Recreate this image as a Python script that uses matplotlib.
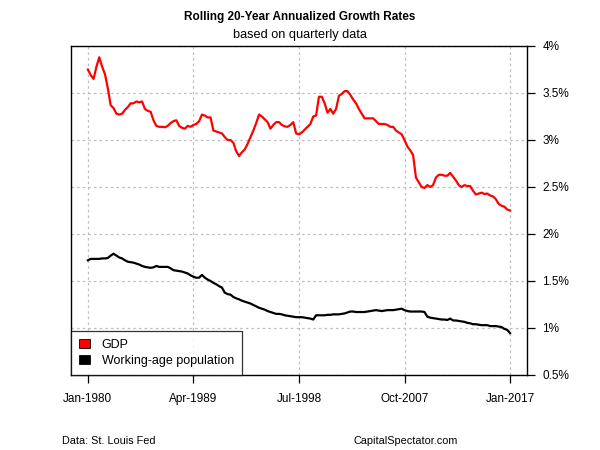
import matplotlib
matplotlib.use("Agg")
import matplotlib.pyplot as plt
from matplotlib.patches import Patch
import numpy as np
import pandas as pd

plt.rcParams['font.family'] = ['Liberation Sans', 'DejaVu Sans']

# quarterly dates, 1980Q1 .. 2017Q1
quarters = pd.period_range("1980Q1", "2017Q1", freq="Q")

# rolling 20-year annualized growth, %
gdp = [3.75, 3.69, 3.65, 3.78, 3.88, 3.78, 3.70, 3.55, 3.37, 3.34,
       3.28, 3.27, 3.28, 3.32, 3.35, 3.39, 3.39, 3.41, 3.40, 3.41,
       3.33, 3.31, 3.30, 3.21, 3.15, 3.14, 3.14, 3.135, 3.15, 3.18,
       3.20, 3.21, 3.15, 3.13, 3.12, 3.15, 3.14, 3.16, 3.17, 3.20,
       3.27, 3.26, 3.24, 3.24, 3.10, 3.09, 3.08, 3.07, 3.03, 3.00,
       3.00, 2.97, 2.88, 2.83, 2.87, 2.90, 2.96, 3.03, 3.10, 3.18,
       3.27, 3.25, 3.22, 3.19, 3.12, 3.16, 3.19, 3.19, 3.16, 3.145,
       3.14, 3.16, 3.19, 3.07, 3.06, 3.08, 3.11, 3.14, 3.17, 3.25,
       3.26, 3.46, 3.46, 3.39, 3.29, 3.33, 3.28, 3.33, 3.47, 3.49,
       3.52, 3.52, 3.48, 3.43, 3.39, 3.33, 3.28, 3.23, 3.23, 3.23,
       3.23, 3.20, 3.17, 3.17, 3.17, 3.16, 3.14, 3.14, 3.10, 3.08,
       3.06, 3.00, 2.93, 2.89, 2.84, 2.60, 2.55, 2.50, 2.49, 2.52,
       2.50, 2.52, 2.60, 2.63, 2.63, 2.62, 2.62, 2.65, 2.61, 2.57,
       2.52, 2.50, 2.52, 2.51, 2.51, 2.46, 2.42, 2.43, 2.44, 2.425,
       2.43, 2.41, 2.40, 2.37, 2.32, 2.30, 2.29, 2.26, 2.25]

workpop = [1.72, 1.735, 1.735, 1.735, 1.735, 1.74, 1.74, 1.745, 1.77, 1.79,
           1.77, 1.75, 1.74, 1.72, 1.705, 1.70, 1.695, 1.685, 1.675, 1.66,
           1.65, 1.645, 1.64, 1.645, 1.66, 1.65, 1.65, 1.65, 1.65, 1.635,
           1.615, 1.61, 1.605, 1.60, 1.59, 1.58, 1.56, 1.545, 1.535, 1.535,
           1.565, 1.535, 1.515, 1.50, 1.48, 1.465, 1.445, 1.43, 1.375, 1.36,
           1.355, 1.33, 1.315, 1.305, 1.29, 1.28, 1.27, 1.26, 1.245, 1.23,
           1.215, 1.205, 1.195, 1.18, 1.17, 1.16, 1.15, 1.15, 1.145, 1.135,
           1.13, 1.125, 1.12, 1.115, 1.115, 1.115, 1.11, 1.105, 1.10, 1.09,
           1.135, 1.135, 1.135, 1.135, 1.14, 1.14, 1.145, 1.145, 1.145, 1.15,
           1.155, 1.165, 1.175, 1.175, 1.17, 1.17, 1.17, 1.17, 1.175, 1.18,
           1.185, 1.19, 1.185, 1.18, 1.185, 1.19, 1.19, 1.19, 1.195, 1.20,
           1.205, 1.19, 1.18, 1.175, 1.175, 1.175, 1.175, 1.175, 1.17, 1.12,
           1.11, 1.105, 1.10, 1.095, 1.09, 1.09, 1.085, 1.10, 1.08, 1.08,
           1.075, 1.07, 1.065, 1.055, 1.05, 1.04, 1.04, 1.035, 1.03, 1.03,
           1.03, 1.02, 1.02, 1.02, 1.015, 1.01, 0.99, 0.98, 0.945]

xtick_idx = [0, 37, 74, 111, 148]
xtick_labels = [quarters[i].start_time.strftime("%b-%Y") for i in xtick_idx]
yticks = [0.5, 1.0, 1.5, 2.0, 2.5, 3.0, 3.5, 4.0]
ytick_labels = ["0.5%", "1%", "1.5%", "2%", "2.5%", "3%", "3.5%", "4%"]

x = np.arange(len(quarters))

fig = plt.figure(figsize=(6, 4.5), dpi=100)
ax = fig.add_axes([0.1183, 0.1667, 0.76, 0.7311])

for v in xtick_idx:
    ax.axvline(v, color='#bebebe', linestyle=(0, (2, 2.5)), linewidth=0.9, zorder=1)
for v in yticks:
    ax.axhline(v, color='#bebebe', linestyle=(0, (2, 2.5)), linewidth=0.9, zorder=1)

ax.plot(x, gdp, color='#ff0000', linewidth=1.6, zorder=3)
ax.plot(x, workpop, color='black', linewidth=1.6, zorder=3)

pad = 0.04 * (len(x) - 1)
ax.set_xlim(-pad, len(x) - 1 + pad)
ax.set_ylim(0.5, 4.0)

ax.set_xticks(xtick_idx)
ax.set_xticklabels(xtick_labels)
ax.yaxis.tick_right()
ax.set_yticks(yticks)
ax.set_yticklabels(ytick_labels)
ax.tick_params(axis='both', direction='out', length=6, width=0.9, labelsize=8.5, colors='black')
ax.tick_params(axis='x', pad=7)
ax.tick_params(axis='y', pad=5)
for s in ax.spines.values():
    s.set_linewidth(1.0)

handles = [Patch(facecolor='#ff0000', edgecolor='black', linewidth=0.6, label='GDP'),
           Patch(facecolor='black', edgecolor='black', linewidth=0.6, label='Working-age population')]
leg = ax.legend(handles=handles, loc='lower left', bbox_to_anchor=(0, 0), borderaxespad=0,
                fancybox=False, frameon=True, fontsize=9, handlelength=0.9, handleheight=0.7,
                handletextpad=0.9, borderpad=0.65, labelspacing=0.3)
leg.get_frame().set_edgecolor('black')
leg.get_frame().set_linewidth(0.9)

fig.text(0.5, 1 - 17 / 450, "Rolling 20-Year Annualized Growth Rates", ha='center', va='center',
         fontsize=8.5, fontweight='bold')
fig.text(0.5, 1 - 35 / 450, "based on quarterly data", ha='center', va='center', fontsize=9.2)
fig.text(62 / 600, 1 - 441 / 450, "Data: St. Louis Fed", ha='left', va='center', fontsize=7.8)
fig.text(458 / 600, 1 - 441 / 450, "CapitalSpectator.com", ha='right', va='center', fontsize=7.8)

fig.savefig("out.png", dpi=100)
